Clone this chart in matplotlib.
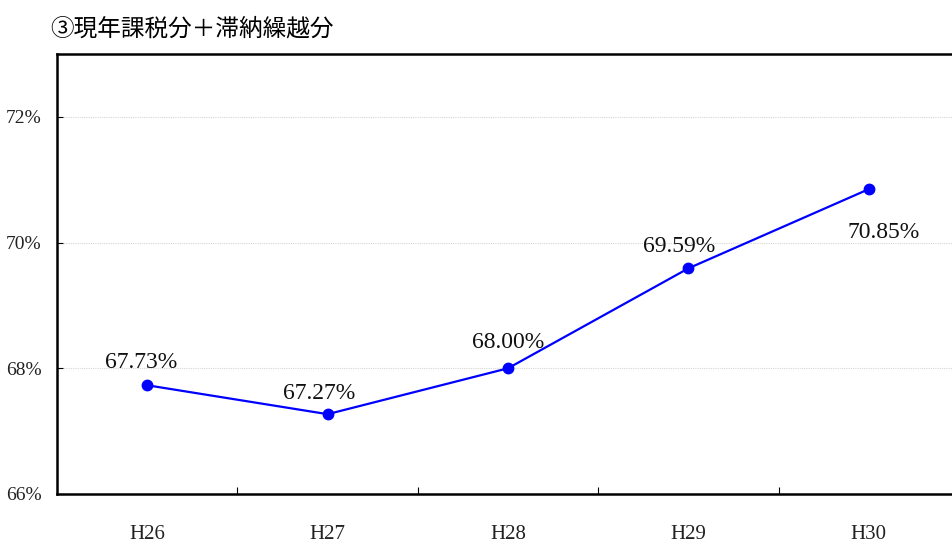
import matplotlib
matplotlib.use("Agg")
import matplotlib.pyplot as plt
from matplotlib.ticker import FixedLocator, NullFormatter, FixedFormatter

# data
years = ["H26", "H27", "H28", "H29", "H30"]
rates = [67.73, 67.27, 68.00, 69.59, 70.85]
# label offsets in pixels (dx, dy) relative to each point
label_offsets = [(-6, 23), (-8, 21), (0, 26), (-9, 22), (15, -43)]
title = "③現年課税分＋滞納繰越分"

serif = ["Liberation Serif", "DejaVu Serif"]

fig = plt.figure(figsize=(9.52, 5.43), dpi=100)
W, H = 952, 543
ax = fig.add_axes([57 / W, (H - 494) / H, 902 / W, 440 / H])

x = list(range(len(years)))
ax.plot(x, rates, color="#0000ff", lw=1.6, marker="o", ms=7.5, zorder=3)

for xi, v, (dx, dy) in zip(x, rates, label_offsets):
    ax.annotate(f"{v:.2f}%", (xi, v), xytext=(dx, dy), textcoords="offset pixels",
                ha="center", va="center", fontsize=17, family=serif, color="#111111")

ax.set_xlim(-0.5, len(years) - 0.5)
ax.set_ylim(66, 73)

ax.xaxis.set_major_locator(FixedLocator([i + 0.5 for i in range(len(years) - 1)]))
ax.xaxis.set_major_formatter(NullFormatter())
ax.xaxis.set_minor_locator(FixedLocator(x))
ax.xaxis.set_minor_formatter(FixedFormatter(years))
ax.tick_params(axis="x", which="major", direction="in", length=5, width=0.8)
ax.tick_params(axis="x", which="minor", length=0, pad=22, labelsize=15)

yt = [66, 68, 70, 72]
ax.set_yticks(yt)
ax.set_yticklabels([f"{t}%" for t in yt])
ax.tick_params(axis="y", direction="in", length=4, width=0.8, pad=11, labelsize=14)
for lab in ax.get_xticklabels(minor=True) + ax.get_yticklabels():
    lab.set_family(serif)
    lab.set_color("#222222")

for t in [68, 70, 72]:
    ax.axhline(t, color="#d6d6d6", lw=0.8, ls=(0, (1, 1)), zorder=1)

for s in ax.spines.values():
    s.set_linewidth(1.8)
    s.set_color("black")

fig.text(50 / W, 1 - 29 / H, title, ha="left", va="center", fontsize=17,
         family=["Noto Sans CJK JP", "DejaVu Sans"], fontweight="normal")

fig.savefig("out.png", dpi=100)
